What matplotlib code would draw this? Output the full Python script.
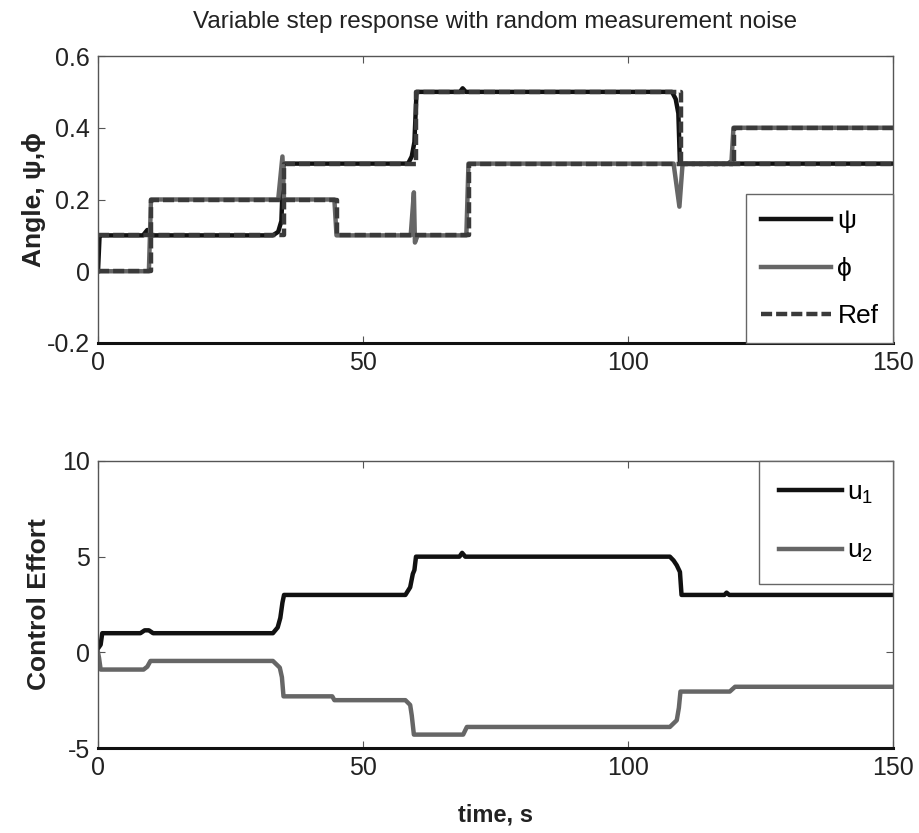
import matplotlib
matplotlib.use("Agg")
import matplotlib.pyplot as plt
from matplotlib.lines import Line2D

plt.rcParams["font.family"] = ["Liberation Sans Narrow", "Liberation Sans", "DejaVu Sans"]
plt.rcParams["mathtext.fontset"] = "custom"
plt.rcParams["mathtext.rm"] = "Liberation Sans"
plt.rcParams["mathtext.it"] = "Liberation Sans"
plt.rcParams["axes.unicode_minus"] = False

# angle response (breakpoints)
psi_t = [0, 0.3, 0.6, 8.5, 9.3, 10.2, 33.0, 34.0, 34.6, 35.0, 35.4, 58.5, 59.2, 59.7, 60.1,
         68.3, 68.8, 69.4, 108.3, 109.0, 109.5, 109.8, 110.3, 118.8, 119.4, 120.0, 150]
psi_v = [0, 0.1, 0.1, 0.1, 0.115, 0.1, 0.1, 0.11, 0.14, 0.3, 0.3, 0.3, 0.32, 0.36, 0.5,
         0.5, 0.51, 0.5, 0.5, 0.48, 0.44, 0.3, 0.3, 0.3, 0.305, 0.3, 0.3]

phi_t = [0, 9.6, 10.0, 34.0, 34.8, 35.1, 44.6, 45.0, 59.0, 59.6, 59.8, 60.3, 69.5, 69.9,
         108.6, 109.7, 110.3, 119.5, 119.9, 150]
phi_v = [0, 0, 0.2, 0.2, 0.32, 0.2, 0.2, 0.1, 0.1, 0.22, 0.08, 0.1, 0.1, 0.3,
         0.3, 0.18, 0.3, 0.3, 0.4, 0.4]

ref_psi_t = [0, 35, 60, 110, 150]
ref_psi_v = [0.1, 0.3, 0.5, 0.3, 0.3]
ref_phi_t = [0, 10, 45, 70, 120, 150]
ref_phi_v = [0, 0.2, 0.1, 0.3, 0.4, 0.4]

# control effort
u1_t = [0, 0.5, 0.8, 8.0, 8.8, 9.6, 10.4, 33.0, 33.9, 34.4, 34.8, 35.1, 58.0, 58.9, 59.4,
        59.7, 60.0, 68.2, 68.7, 69.3, 107.9, 108.6, 109.2, 109.8, 110.1, 118.2, 118.6, 119.1, 150]
u1_v = [0.2, 0.4, 1.0, 1.0, 1.15, 1.15, 1.0, 1.0, 1.3, 1.8, 2.6, 3.0, 3.0, 3.4, 4.1,
        4.3, 5.0, 5.0, 5.2, 5.0, 5.0, 4.8, 4.55, 4.2, 3.0, 3.0, 3.12, 3.0, 3.0]

u2_t = [0, 0.2, 0.5, 8.6, 9.3, 9.9, 33.0, 34.3, 34.7, 35.0, 44.2, 44.6, 58.0, 58.9, 59.2,
        59.6, 68.9, 69.6, 107.9, 109.2, 109.6, 109.9, 119.2, 120.2, 150]
u2_v = [0.0, -0.3, -0.9, -0.9, -0.75, -0.45, -0.45, -0.8, -1.3, -2.3, -2.3, -2.5, -2.5, -2.75, -3.3,
        -4.3, -4.3, -3.9, -3.9, -3.55, -2.9, -2.05, -2.05, -1.8, -1.8]

x_ticks = [0, 50, 100, 150]
y1_ticks = [-0.2, 0, 0.2, 0.4, 0.6]
y1_labels = ["-0.2", "0", "0.2", "0.4", "0.6"]
y2_ticks = [-5, 0, 5, 10]

BLACK = "#111111"
GRAY = "#666666"
REF = "#3a3a3a"
LW = 3.2
DASH = (2.5, 0.9)


def style(ax):
    ax.set_xlim(0, 150)
    ax.set_xticks(x_ticks)
    ax.tick_params(direction="in", top=True, right=True, length=5, width=0.8,
                   labelsize=18, pad=6, color="#555555", labelcolor="#222222")
    for s in ax.spines.values():
        s.set_linewidth(1.0)
        s.set_color("#555555")
    ax.spines["bottom"].set_linewidth(2.2)
    ax.spines["bottom"].set_color("#111111")


fig = plt.figure(figsize=(9.19, 8.33), dpi=100)
ax1 = fig.add_axes([98 / 919, 1 - 343 / 833, 795 / 919, 287 / 833])
ax2 = fig.add_axes([98 / 919, 1 - 748 / 833, 795 / 919, 287 / 833])

# top panel
ax1.plot(psi_t, psi_v, color=BLACK, lw=LW)
ax1.plot(phi_t, phi_v, color=GRAY, lw=LW)
ax1.plot(ref_psi_t, ref_psi_v, color=REF, lw=LW, ls="--", dashes=DASH, drawstyle="steps-post")
ax1.plot(ref_phi_t, ref_phi_v, color=REF, lw=LW, ls="--", dashes=DASH, drawstyle="steps-post")
style(ax1)
ax1.set_ylim(-0.2, 0.6)
ax1.set_yticks(y1_ticks)
ax1.set_yticklabels(y1_labels)
ax1.set_ylabel("Angle, ψ,ϕ", fontsize=19, fontweight="bold", color="#222222")
ax1.yaxis.set_label_coords(-52 / 795, 0.5)
ax1.set_title("Variable step response with random measurement noise",
              fontsize=17.5, color="#222222", pad=20)

h1 = [Line2D([], [], color=BLACK, lw=LW),
      Line2D([], [], color=GRAY, lw=LW),
      Line2D([], [], color=REF, lw=LW, ls="--", dashes=DASH)]
leg1 = ax1.legend(h1, ["ψ", "ϕ", "Ref"], loc="lower right", borderaxespad=0,
                  fontsize=19, handlelength=2.65, handletextpad=0.25, labelspacing=0.9,
                  borderpad=0.55, fancybox=False, edgecolor="#666666", framealpha=1)
leg1.get_frame().set_linewidth(1.0)

# bottom panel
ax2.plot(u1_t, u1_v, color=BLACK, lw=LW)
ax2.plot(u2_t, u2_v, color=GRAY, lw=LW)
style(ax2)
ax2.set_ylim(-5, 10)
ax2.set_yticks(y2_ticks)
ax2.set_ylabel("Control Effort", fontsize=19, fontweight="bold", color="#222222")
ax2.yaxis.set_label_coords(-47 / 795, 0.5)
ax2.set_xlabel("time, s", fontsize=17, fontweight="bold", color="#222222", labelpad=17)

h2 = [Line2D([], [], color=BLACK, lw=LW), Line2D([], [], color=GRAY, lw=LW)]
leg2 = ax2.legend(h2, ["u$_1$", "u$_2$"], loc="upper right", borderaxespad=0,
                  fontsize=19, handlelength=2.4, handletextpad=0.2, labelspacing=1.27,
                  borderpad=0.74, fancybox=False, edgecolor="#666666", framealpha=1)
leg2.get_frame().set_linewidth(1.0)

fig.savefig("out.png", dpi=100)
